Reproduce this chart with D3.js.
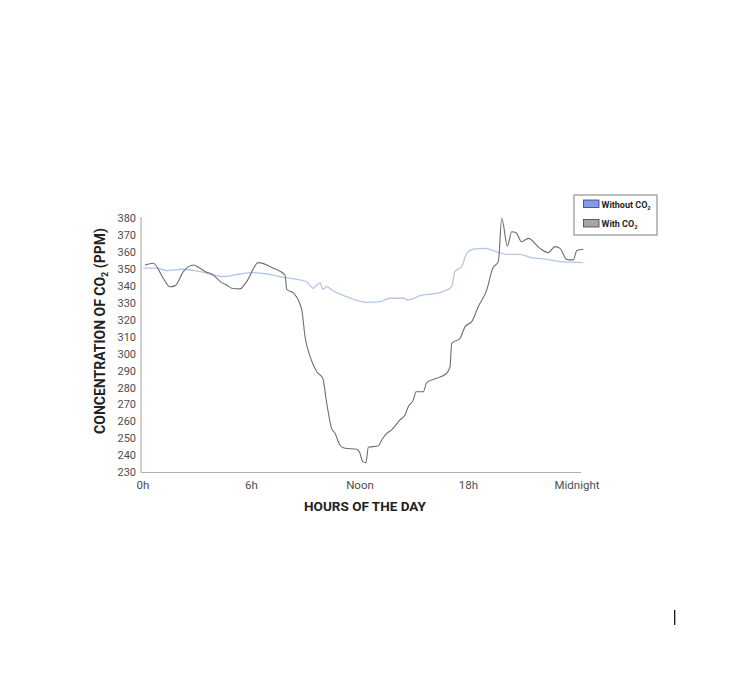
<!DOCTYPE html>
<html>
<head>
<meta charset="utf-8">
<script src="https://cdn.jsdelivr.net/npm/d3@7"></script>
<style>
  body { margin: 0; background: #fff; }
  svg { display: block; font-family: Roboto, "Noto Sans", sans-serif; }
</style>
</head>
<body>
<div id="chart"></div>
<script>
// hours of the day and ppm readings
const withHours = [0.11, 0.57, 1.12, 1.49, 1.77, 2.23, 2.78, 3.15, 3.52, 3.8, 4.35, 4.63, 4.91, 5.36, 5.73, 6.38, 7.21, 7.85, 7.95, 8.35,
  8.78, 8.96, 9.24, 9.61, 9.94, 10.16, 10.43, 10.62, 10.89, 11.17, 11.82, 12.0, 12.15, 12.33, 12.46, 13.01, 13.2, 13.48, 13.75, 14.21,
  14.49, 14.67, 14.95, 15.1, 15.5, 15.69, 16.24, 16.79, 16.98, 17.07, 17.53, 17.81, 18.18, 18.54, 19.01, 19.34, 19.65, 19.84, 20.15, 20.39,
  20.63, 20.94, 21.31, 21.95, 22.41, 22.78, 23.06, 23.43, 23.8, 23.99, 24.35];
const withCO2 = [352.3, 353.3, 344.5, 339.5, 340, 348.4, 352.3, 350.4, 348, 347, 341.9, 340.5, 338.6, 338.2, 342.5, 353.7, 350.4, 346.4, 338, 335.5,
  325.8, 310, 298.3, 289.4, 285.5, 270.8, 256, 253.1, 246.2, 244.3, 243.7, 241.3, 236.4, 235.8, 244.9, 245.6, 249.2, 253.1, 255.1, 261,
  263.9, 268.8, 272.8, 277.6, 277.6, 283, 285.5, 288.5, 292.4, 306.1, 309.1, 316, 318.9, 327.7, 337.6, 350.4, 354.3, 379.8, 363.5, 371.9,
  371.3, 366, 368, 362.1, 359.6, 363.1, 362.1, 355.6, 355.3, 360.8, 361.6];

const withoutHours = [0.02, 0.76, 1.31, 2.23, 3.15, 4.44, 5.36, 6.1, 6.84, 7.58, 8.13, 8.68, 9.05, 9.42, 9.61, 9.79, 9.94, 10.16, 10.43, 11.26,
  12.37, 13.11, 13.66, 14.39, 14.67, 15.32, 16.42, 16.79, 17.07, 17.25, 17.62, 17.9, 18.27, 18.91, 19.56, 20.11, 20.85, 21.4, 22.32, 23.06, 24.35];
const withoutCO2 = [350.4, 350.4, 349, 349.8, 348.4, 345.4, 347, 347.8, 347, 345.4, 344.5, 343.5, 342.5, 338.6, 340.5, 341.9, 338, 339.5, 337.6, 333.6,
  330.3, 330.7, 332.7, 332.7, 331.7, 334.2, 336, 337.6, 339.5, 348.4, 351.3, 359.2, 361.7, 362.1, 360.1, 358.6, 358.6, 356.8, 355.6, 354.3, 353.7];

const yTicks = [230, 240, 250, 260, 270, 280, 290, 300, 310, 320, 330, 340, 350, 360, 370, 380];
const xTickHours = [0, 6, 12, 18, 24];
const xTickLabels = ["0h", "6h", "Noon", "18h", "Midnight"];

const width = 749, height = 676;

const svg = d3.select("#chart").append("svg")
    .attr("width", width)
    .attr("height", height)
    .attr("viewBox", `0 0 ${width} ${height}`);

const x = d3.scaleLinear().domain([0, 24]).range([143, 577]);
const y = d3.scaleLinear().domain([230, 380]).range([472.5, 218]);

// axes lines (no tick marks)
svg.append("line")
    .attr("x1", 141).attr("x2", 141)
    .attr("y1", y(380) - 1).attr("y2", y(230))
    .attr("stroke", "#b0b0b0").attr("stroke-width", 1.2);
svg.append("line")
    .attr("x1", 141).attr("x2", 581)
    .attr("y1", y(230)).attr("y2", y(230))
    .attr("stroke", "#b0b0b0").attr("stroke-width", 1.2);

// y tick labels
svg.append("g").selectAll("text")
    .data(yTicks)
    .join("text")
    .attr("x", 136)
    .attr("y", d => y(d))
    .attr("dy", "0.35em")
    .attr("text-anchor", "end")
    .attr("font-size", 11)
    .attr("fill", "#4d4d4d")
    .text(d => d);

// x tick labels
svg.append("g").selectAll("text")
    .data(xTickHours)
    .join("text")
    .attr("x", d => x(d))
    .attr("y", 489)
    .attr("text-anchor", "middle")
    .attr("font-size", 11.5)
    .attr("fill", "#4d4d4d")
    .text((d, i) => xTickLabels[i]);

// lines
const line = d3.line()
    .x(d => x(d[0]))
    .y(d => y(d[1]))
    .curve(d3.curveMonotoneX);

svg.append("path")
    .datum(d3.zip(withoutHours, withoutCO2))
    .attr("d", line)
    .attr("fill", "none")
    .attr("stroke", "#b4c7e7")
    .attr("stroke-width", 1.3);

svg.append("path")
    .datum(d3.zip(withHours, withCO2))
    .attr("d", line)
    .attr("fill", "none")
    .attr("stroke", "#6e6e6e")
    .attr("stroke-width", 1.1);

// axis titles
svg.append("text")
    .attr("x", 365)
    .attr("y", 511)
    .attr("text-anchor", "middle")
    .attr("font-size", 13.5)
    .attr("font-weight", "bold")
    .attr("fill", "#222")
    .text("HOURS OF THE DAY");

const yTitle = svg.append("text")
    .attr("transform", "translate(105, 331) rotate(-90)")
    .attr("text-anchor", "middle")
    .attr("font-size", 14)
    .attr("font-weight", "bold")
    .attr("fill", "#222");
yTitle.append("tspan").text("CONCENTRATION OF CO");
yTitle.append("tspan").attr("font-size", 9).attr("dy", 3).text("2");
yTitle.append("tspan").attr("dy", -3).text(" (PPM)");

// legend
const legend = svg.append("g");
legend.append("rect")
    .attr("x", 574).attr("y", 195)
    .attr("width", 83).attr("height", 40)
    .attr("fill", "#fff")
    .attr("stroke", "#7f7f7f");

const legendItems = [
  { label: "Without CO", fill: "#809cf2", y: 200 },
  { label: "With CO", fill: "#a6a6a6", y: 219.5 }
];
legendItems.forEach(item => {
  legend.append("rect")
      .attr("x", 583.5).attr("y", item.y)
      .attr("width", 15.5).attr("height", 7.5)
      .attr("fill", item.fill)
      .attr("stroke", "#404040").attr("stroke-width", 0.8);
  const t = legend.append("text")
      .attr("x", 601.5)
      .attr("y", item.y + 7.5)
      .attr("font-size", 9)
      .attr("font-weight", "bold")
      .attr("fill", "#262626");
  t.append("tspan").text(item.label);
  t.append("tspan").attr("font-size", 6).attr("dy", 2).text("2");
});

// small stray cursor mark seen at bottom right
svg.append("line")
    .attr("x1", 674.7).attr("x2", 674.7)
    .attr("y1", 610).attr("y2", 625)
    .attr("stroke", "#000").attr("stroke-width", 1.2);
</script>
</body>
</html>
